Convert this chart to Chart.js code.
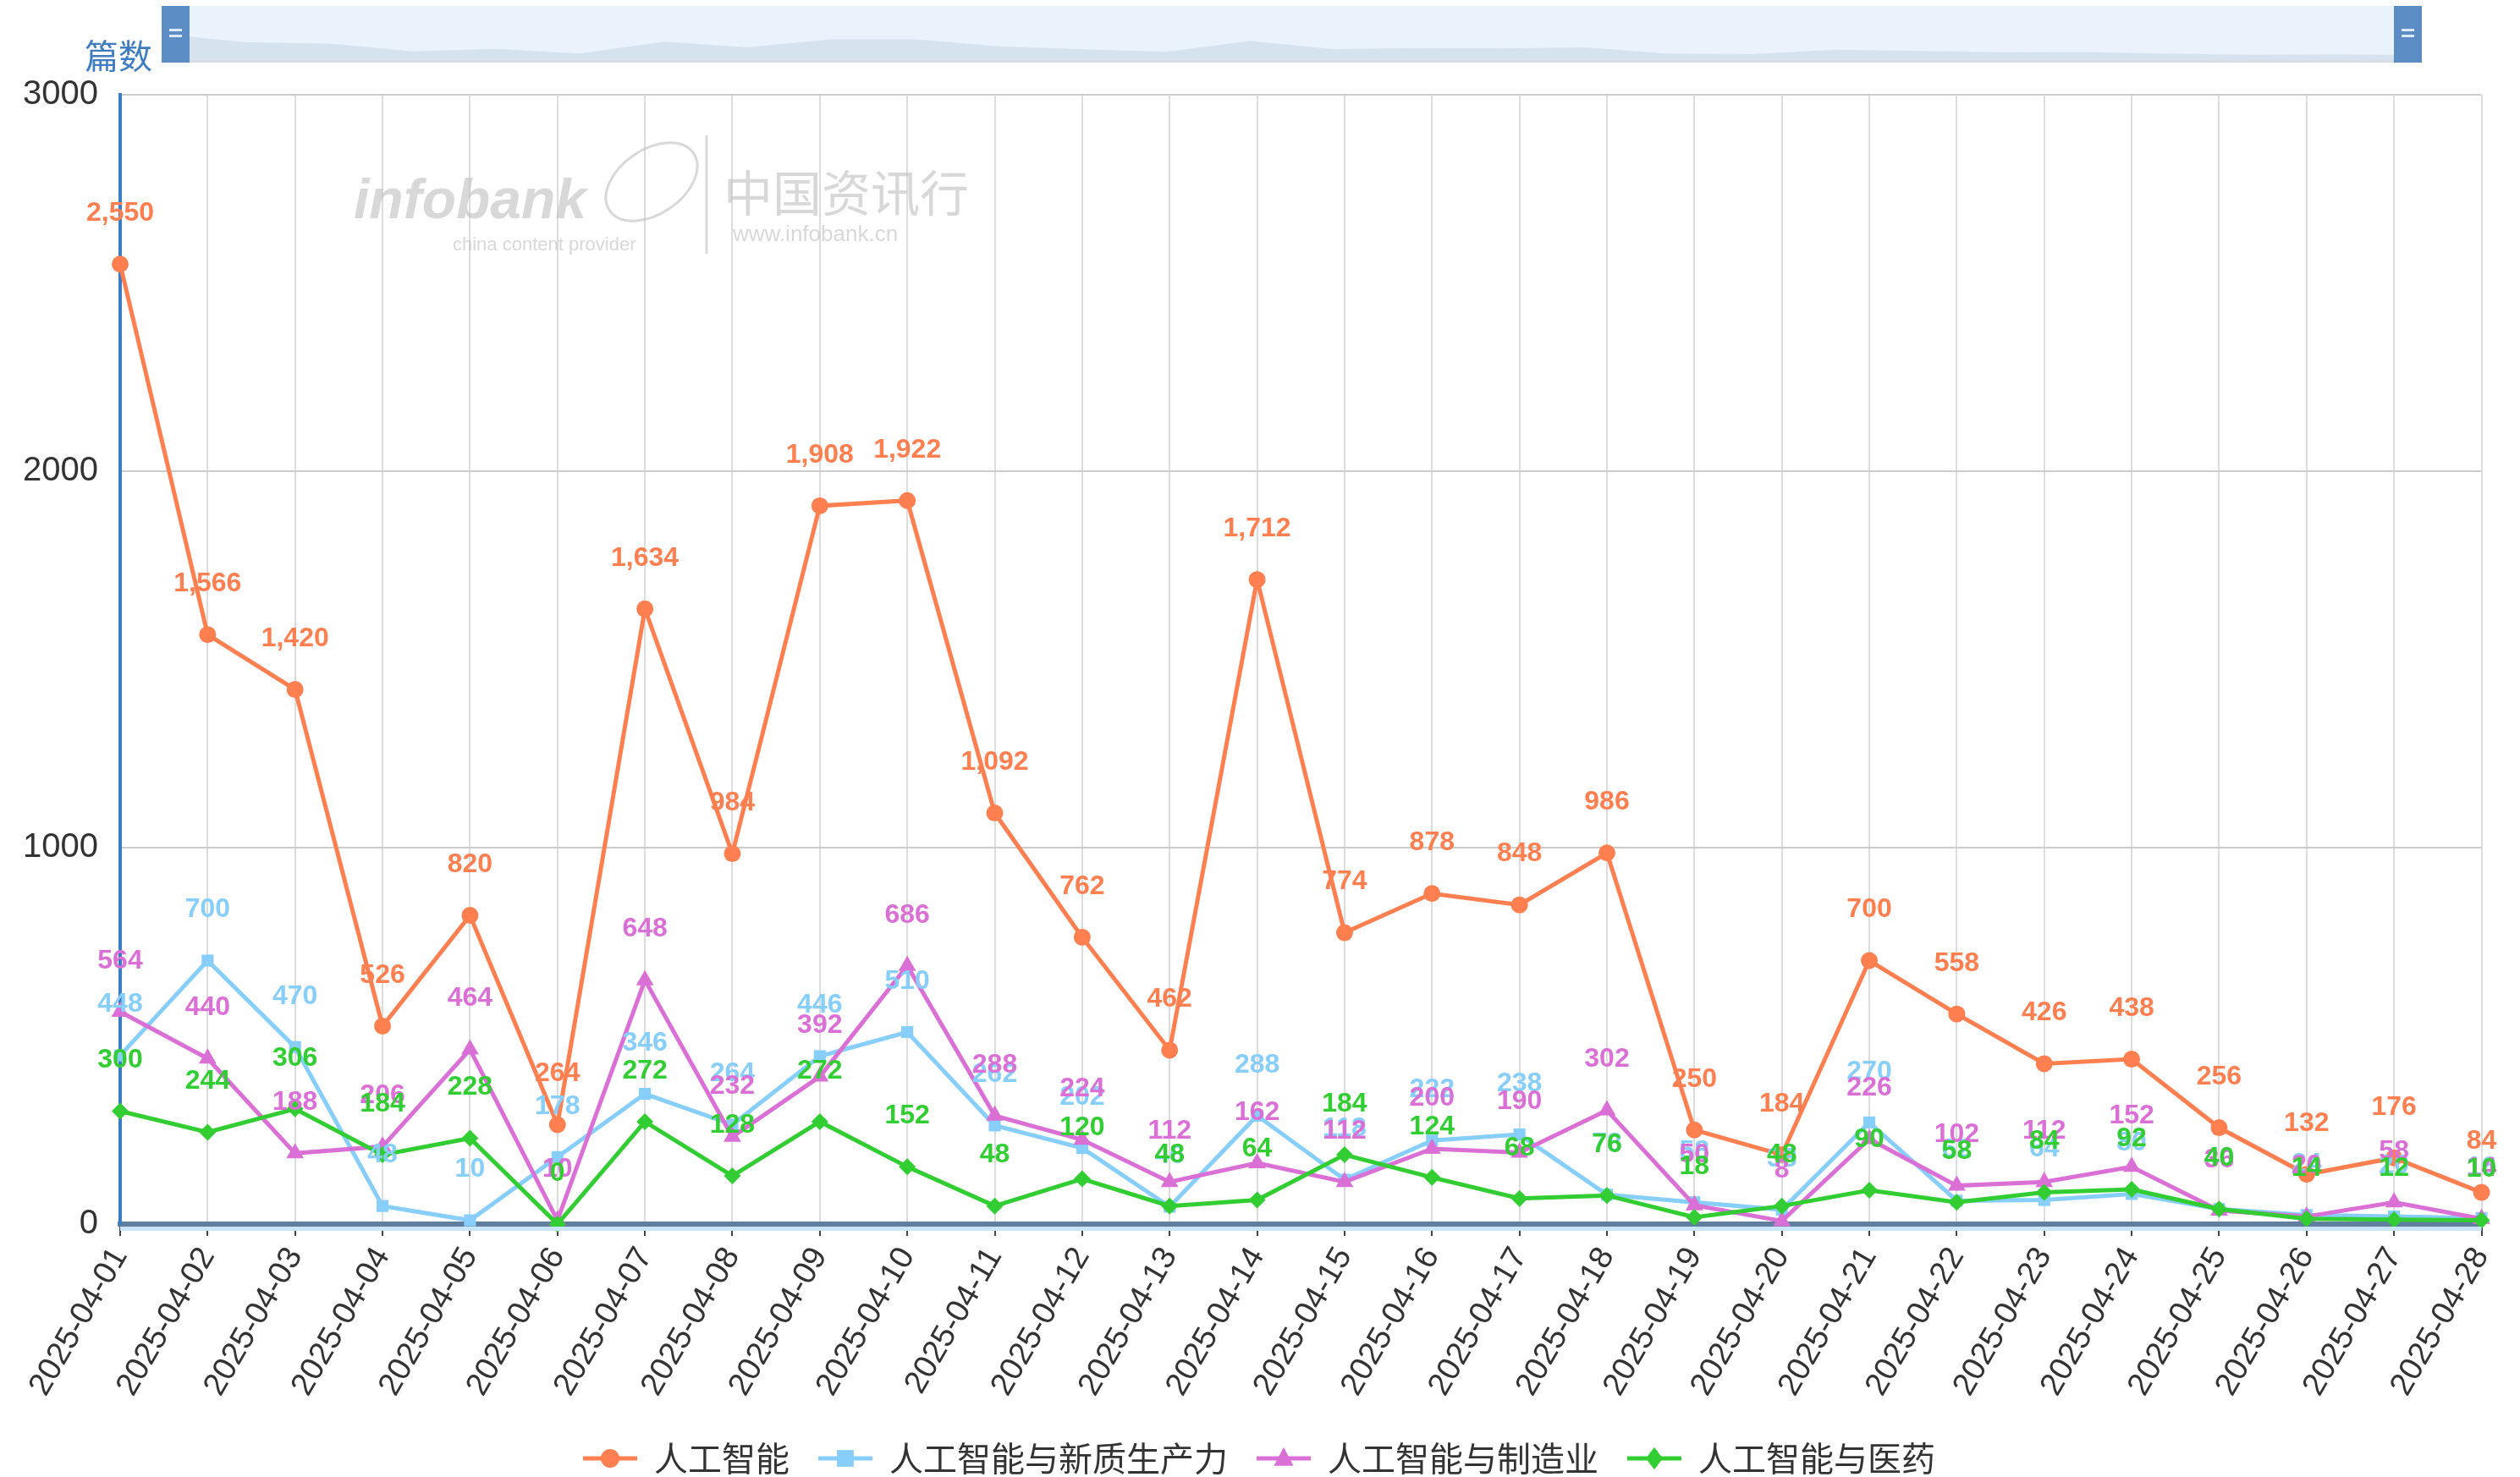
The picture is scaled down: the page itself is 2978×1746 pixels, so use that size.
<!DOCTYPE html>
<html>
<head>
<meta charset="utf-8">
<script src="https://cdn.jsdelivr.net/npm/chart.js@4.4.1/dist/chart.umd.min.js"></script>
<style>
  html, body { margin: 0; padding: 0; background: #fff; }
  #wrap { width: 2978px; height: 1746px; }
</style>
</head>
<body>
<div id="wrap"><canvas id="trend-chart" width="2978" height="1746"></canvas></div>
<script>
// Data
const categories = [
  '2025-04-01', '2025-04-02', '2025-04-03', '2025-04-04', '2025-04-05', '2025-04-06', '2025-04-07',
  '2025-04-08', '2025-04-09', '2025-04-10', '2025-04-11', '2025-04-12', '2025-04-13', '2025-04-14',
  '2025-04-15', '2025-04-16', '2025-04-17', '2025-04-18', '2025-04-19', '2025-04-20', '2025-04-21',
  '2025-04-22', '2025-04-23', '2025-04-24', '2025-04-25', '2025-04-26', '2025-04-27', '2025-04-28'
];
const seriesNames = ['人工智能', '人工智能与新质生产力', '人工智能与制造业', '人工智能与医药'];
const aiTotal = [2550, 1566, 1420, 526, 820, 264, 1634, 984, 1908, 1922, 1092, 762, 462, 1712,
  774, 878, 848, 986, 250, 184, 700, 558, 426, 438, 256, 132, 176, 84];
const aiNewProductivity = [448, 700, 470, 48, 10, 178, 346, 264, 446, 510, 262, 202, 46, 288,
  118, 222, 238, 78, 58, 38, 270, 62, 64, 80, 40, 24, 20, 16];
const aiManufacturing = [564, 440, 188, 206, 464, 10, 648, 232, 392, 686, 288, 224, 112, 162,
  112, 200, 190, 302, 50, 8, 226, 102, 112, 152, 36, 20, 58, 14];
const aiMedicine = [300, 244, 306, 184, 228, 0, 272, 128, 272, 152, 48, 120, 48, 64,
  184, 124, 68, 76, 18, 48, 90, 58, 84, 92, 40, 14, 12, 10];
const yTicks = [0, 1000, 2000, 3000];

const colors = ['#ff7f50', '#87cefa', '#da70d6', '#32cd32'];
const markers = ['circle', 'rect', 'triangle', 'rectRot'];
const numFont = '"Liberation Sans", Arial, sans-serif';
const cjkFont = '"Noto Sans CJK SC", "Noto Sans", sans-serif';

// small marker drawing used for legend icons
function drawMarker(ctx, style, x, y, r) {
  ctx.beginPath();
  if (style === 'circle') {
    ctx.arc(x, y, r, 0, Math.PI * 2);
  } else if (style === 'rect') {
    ctx.rect(x - r * 0.9, y - r * 0.9, r * 1.8, r * 1.8);
  } else if (style === 'triangle') {
    ctx.moveTo(x, y - r * 1.2);
    ctx.lineTo(x + r * 1.05, y + r * 0.8);
    ctx.lineTo(x - r * 1.05, y + r * 0.8);
  } else {
    ctx.moveTo(x, y - r * 1.2);
    ctx.lineTo(x + r * 0.9, y);
    ctx.lineTo(x, y + r * 1.2);
    ctx.lineTo(x - r * 0.9, y);
  }
  ctx.closePath();
  ctx.fill();
}

function legendIcon(color, style) {
  const c = document.createElement('canvas');
  c.width = 92;
  c.height = 34;
  const g = c.getContext('2d');
  g.strokeStyle = color;
  g.fillStyle = color;
  g.lineWidth = 5;
  g.beginPath();
  g.moveTo(28, 17);
  g.lineTo(92, 17);
  g.stroke();
  drawMarker(g, style, 60, 17, 11);
  return c;
}

// value labels above every point
const valueLabels = {
  id: 'valueLabels',
  afterDatasetsDraw(chart) {
    const ctx = chart.ctx;
    ctx.save();
    ctx.font = 'bold 32px ' + numFont;
    ctx.textAlign = 'center';
    ctx.textBaseline = 'middle';
    chart.data.datasets.forEach((ds, i) => {
      const meta = chart.getDatasetMeta(i);
      if (meta.hidden) return;
      ctx.fillStyle = ds.borderColor;
      meta.data.forEach((pt, j) => {
        ctx.fillText(ds.data[j].toLocaleString('en-US'), pt.x, pt.y - 60);
      });
    });
    ctx.restore();
  }
};

// zoom slider on top, axis name, watermark, band under the x axis
const decorations = {
  id: 'decorations',
  afterLayout(chart) {
    // push the legend row a little lower, as in the original
    chart.legend.top += 8;
    chart.legend.bottom += 8;
  },
  beforeDatasetsDraw(chart) {
    const ctx = chart.ctx;
    ctx.save();
    ctx.fillStyle = 'rgba(190,190,190,0.6)';
    ctx.font = 'italic bold 66px ' + numFont;
    ctx.textBaseline = 'middle';
    ctx.fillText('infobank', 418, 240);
    ctx.font = '22px ' + numFont;
    ctx.fillText('china content provider', 535, 290);
    ctx.font = '58px ' + cjkFont;
    ctx.fillText('中国资讯行', 855, 228);
    ctx.font = '26px ' + numFont;
    ctx.fillText('www.infobank.cn', 866, 278);
    ctx.strokeStyle = 'rgba(190,190,190,0.6)';
    ctx.lineWidth = 3;
    ctx.beginPath();
    ctx.ellipse(770, 215, 60, 38, -0.6, 0, Math.PI * 2);
    ctx.stroke();
    ctx.beginPath();
    ctx.moveTo(835, 160);
    ctx.lineTo(835, 300);
    ctx.stroke();
    ctx.restore();
  },
  afterDraw(chart) {
    const ctx = chart.ctx;
    const area = chart.chartArea;
    ctx.save();
    // slider
    const sx0 = 191, sx1 = 2862, sy0 = 7, sy1 = 74;
    ctx.fillStyle = '#eaf3fb';
    ctx.fillRect(sx0, sy0, sx1 - sx0, sy1 - sy0);
    const maxV = Math.max(...aiTotal);
    ctx.fillStyle = 'rgba(196,212,228,0.55)';
    ctx.beginPath();
    ctx.moveTo(sx0, sy1);
    aiTotal.forEach((v, i) => {
      const x = sx0 + (sx1 - sx0) * i / (aiTotal.length - 1);
      ctx.lineTo(x, sy1 - 8 - v / maxV * 26);
    });
    ctx.lineTo(sx1, sy1);
    ctx.closePath();
    ctx.fill();
    ctx.fillStyle = '#d6dde5';
    ctx.fillRect(sx0, sy1 - 3, sx1 - sx0, 3);
    [sx0, sx1 - 33].forEach(hx => {
      ctx.fillStyle = '#5b8cc3';
      ctx.fillRect(hx, sy0, 33, sy1 - sy0);
      ctx.fillStyle = '#dce9f6';
      ctx.fillRect(hx + 9, 34, 15, 3);
      ctx.fillRect(hx + 9, 41, 15, 3);
    });
    // axis name
    ctx.fillStyle = '#3f7cc0';
    ctx.font = '40px ' + cjkFont;
    ctx.textAlign = 'center';
    ctx.textBaseline = 'middle';
    ctx.fillText('篇数', 140, 66);
    // light band under the x axis line
    ctx.fillStyle = '#c8e5f9';
    ctx.fillRect(area.left, area.bottom + 3, area.right - area.left, 5);
    ctx.restore();
  }
};

const ctx = document.getElementById('trend-chart').getContext('2d');
const seriesData = [aiTotal, aiNewProductivity, aiManufacturing, aiMedicine];

const chart = new Chart(ctx, {
  type: 'line',
  data: {
    labels: categories,
    datasets: seriesData.map((values, i) => ({
      label: seriesNames[i],
      data: values,
      borderColor: colors[i],
      backgroundColor: colors[i],
      pointBackgroundColor: colors[i],
      pointBorderColor: colors[i],
      pointStyle: markers[i],
      pointRadius: i === 2 ? 12 : 10,
      pointBorderWidth: 0,
      borderWidth: 5,
      tension: 0,
      fill: false,
      clip: false,
      order: 3 - i
    }))
  },
  options: {
    responsive: false,
    animation: false,
    devicePixelRatio: 1,
    layout: { padding: { top: 112, right: 30, bottom: 0, left: 0 } },
    plugins: {
      tooltip: { enabled: false },
      legend: {
        position: 'bottom',
        labels: {
          usePointStyle: true,
          pointStyleWidth: 92,
          padding: 6,
          color: '#333',
          font: { family: cjkFont, size: 40 },
          generateLabels: chart => chart.data.datasets.map((ds, i) => ({
            text: ds.label,
            fillStyle: ds.borderColor,
            strokeStyle: ds.borderColor,
            lineWidth: 0,
            pointStyle: legendIcon(ds.borderColor, ds.pointStyle),
            hidden: !chart.isDatasetVisible(i),
            datasetIndex: i,
            fontColor: '#333'
          }))
        }
      }
    },
    scales: {
      x: {
        offset: false,
        afterFit: s => { s.height = s.chart.height - s.chart.legend.height - 1447; },
        grid: { color: '#dcdcdc', lineWidth: 2, tickColor: '#444', tickLength: 14, drawTicks: true },
        border: { color: '#607f9f', width: 6 },
        ticks: {
          autoSkip: false,
          minRotation: 60,
          maxRotation: 60,
          padding: 6,
          color: '#333',
          font: { family: numFont, size: 38 }
        }
      },
      y: {
        min: 0,
        max: 3000,
        afterFit: s => { s.width = 142; },
        afterBuildTicks: s => { s.ticks = yTicks.map(v => ({ value: v })); },
        grid: { color: '#cccccc', lineWidth: 2, drawTicks: false },
        border: { color: '#3b7dc4', width: 4 },
        ticks: {
          padding: 26,
          color: '#333',
          font: { family: numFont, size: 40 },
          callback: v => String(v)
        }
      }
    }
  },
  plugins: [decorations, valueLabels]
});
</script>
</body>
</html>
